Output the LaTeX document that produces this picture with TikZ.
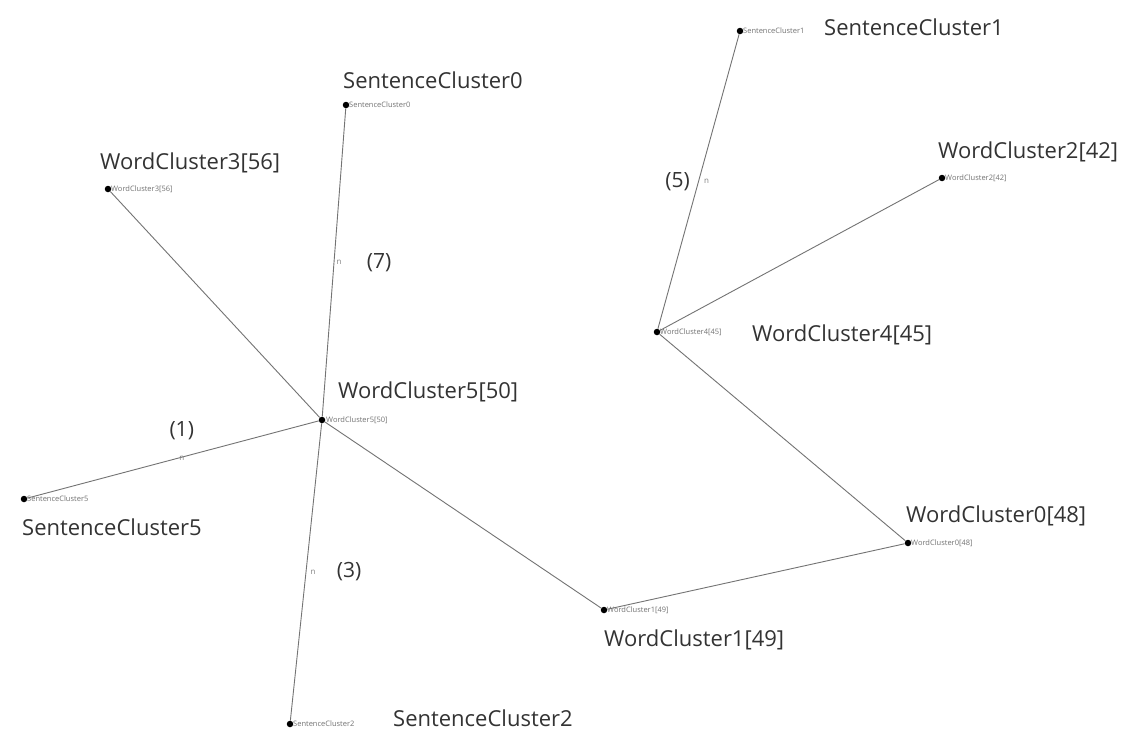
\documentclass[tikz,border=0pt]{standalone}
\usepackage{fontspec}
\setmainfont{Open Sans}
\begin{document}
\begin{tikzpicture}[x=1pt,y=-1pt,
  dot/.style={circle,fill=black,inner sep=0pt,minimum size=6.5pt},
  lbl/.style={anchor=west,inner sep=0pt,text=black!80,font=\fontsize{22}{24}\selectfont},
  tinylbl/.style={anchor=west,inner sep=0pt,text=black!55,font=\fontsize{7.5}{8}\selectfont},
  edgeline/.style={draw=black!55,line width=0.9pt},
  num/.style={inner sep=0pt,text=black!80,font=\fontsize{21}{24}\selectfont},
  nmark/.style={inner sep=0pt,text=black!50,font=\fontsize{8}{9}\selectfont}]
\useasboundingbox[fill=white] (0,0) rectangle (1129,731);
% dots
\node[dot] (sc0) at (346,105) {};
\node[dot] (wc3) at (108,189) {};
\node[dot] (wc5) at (322,420) {};
\node[dot] (sc5) at (24,499) {};
\node[dot] (sc2) at (290,724) {};
\node[dot] (wc1) at (604,610) {};
\node[dot] (wc0) at (908,543) {};
\node[dot] (wc4) at (657,332) {};
\node[dot] (wc2) at (942,178) {};
\node[dot] (sc1) at (740,31) {};
% edges
\draw[edgeline] (wc5) -- node[nmark,pos=0.5,xshift=5pt]{n} node[num,pos=0.5,xshift=45pt]{(7)} (sc0);
\draw[edgeline] (wc5) -- (wc3);
\draw[edgeline] (wc5) -- node[nmark,pos=0.47,yshift=-1pt]{n} node[num,pos=0.47,yshift=27pt]{(1)} (sc5);
\draw[edgeline] (wc5) -- node[nmark,pos=0.5,xshift=7pt]{n} node[num,pos=0.5,xshift=43pt]{(3)} (sc2);
\draw[edgeline] (wc5) -- (wc1);
\draw[edgeline] (wc1) -- (wc0);
\draw[edgeline] (wc0) -- (wc4);
\draw[edgeline] (wc4) -- (wc2);
\draw[edgeline] (wc4) -- node[nmark,pos=0.5,xshift=8pt]{n} node[num,pos=0.5,xshift=-21pt]{(5)} (sc1);
% tiny labels
\node[tinylbl] (tsc0) at (349,105) {SentenceCluster0};
\node[tinylbl] (twc3) at (111,189) {WordCluster3[56]};
\node[tinylbl] (twc5) at (326,420) {WordCluster5[50]};
\node[tinylbl] (tsc5) at (27,499) {SentenceCluster5};
\node[tinylbl] (tsc2) at (293,724) {SentenceCluster2};
\node[tinylbl] (twc1) at (607,610) {WordCluster1[49]};
\node[tinylbl] (twc0) at (911,543) {WordCluster0[48]};
\node[tinylbl] (twc4) at (660,332) {WordCluster4[45]};
\node[tinylbl] (twc2) at (945,178) {WordCluster2[42]};
\node[tinylbl] (tsc1) at (743,31) {SentenceCluster1};
% labels
\node[lbl] (lsc0) at (343,80) {SentenceCluster0};
\node[lbl] (lwc3) at (100,163) {WordCluster3[56]};
\node[lbl] (lwc5) at (338,392) {WordCluster5[50]};
\node[lbl] (lsc5) at (22,527) {SentenceCluster5};
\node[lbl] (lsc2) at (393,718) {SentenceCluster2};
\node[lbl] (lwc1) at (604,640) {WordCluster1[49]};
\node[lbl] (lwc0) at (906,516) {WordCluster0[48]};
\node[lbl] (lwc4) at (752,335) {WordCluster4[45]};
\node[lbl] (lwc2) at (938,152) {WordCluster2[42]};
\node[lbl] (lsc1) at (824,27) {SentenceCluster1};
\end{tikzpicture}
\end{document}
